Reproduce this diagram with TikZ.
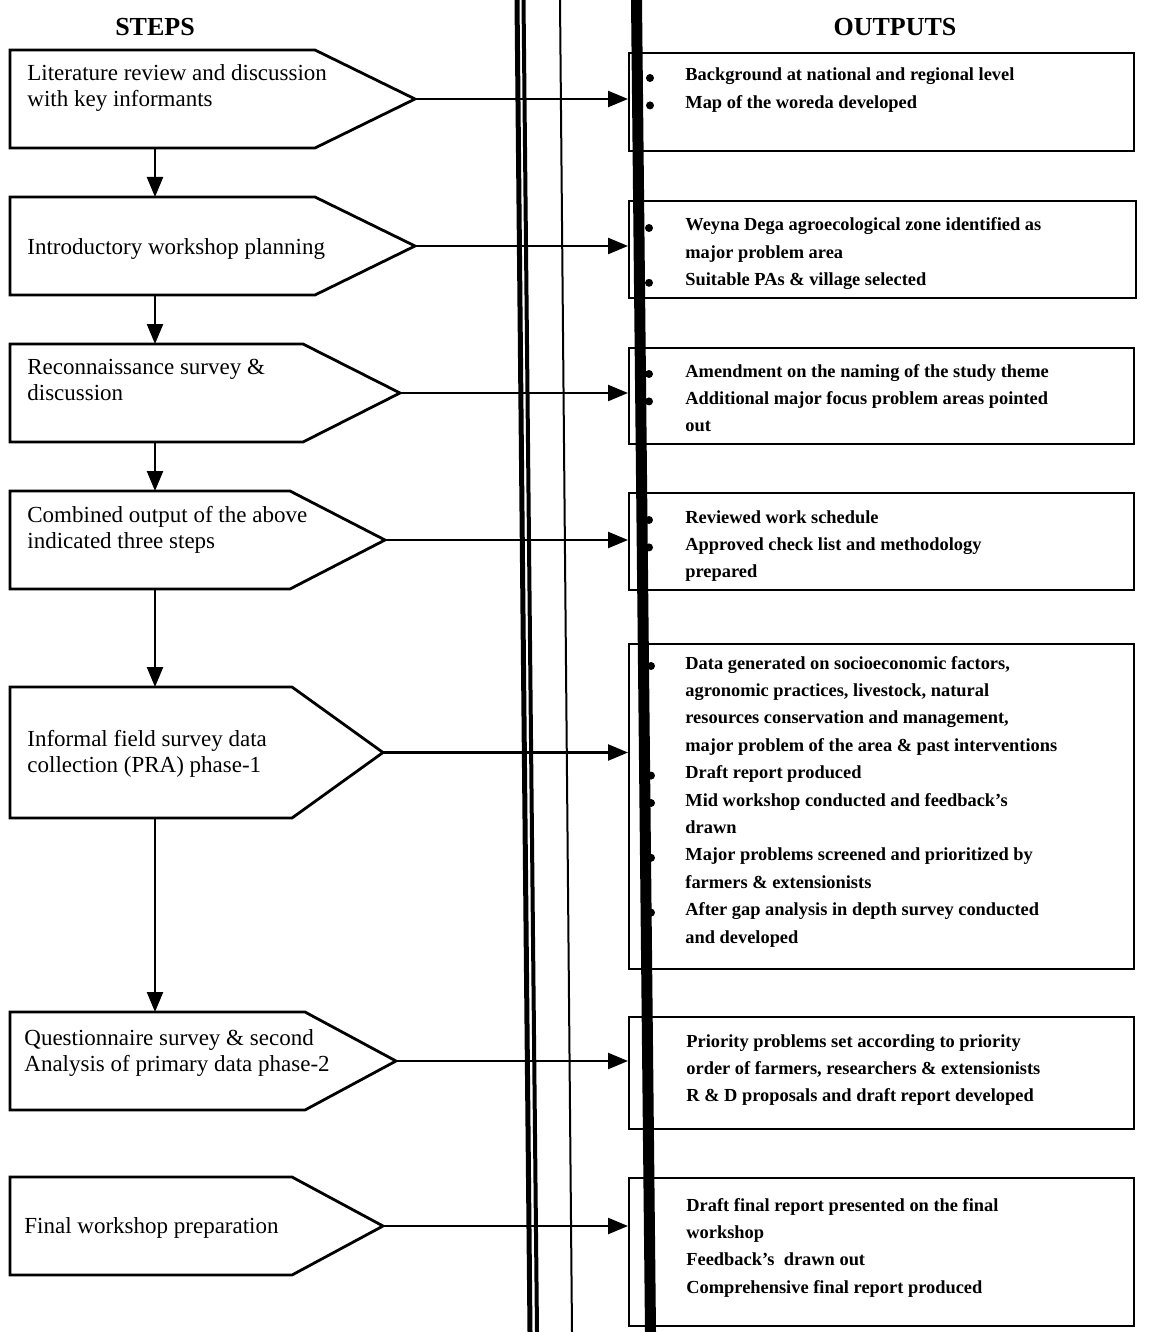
\documentclass[tikz,border=0pt]{standalone}
\usepackage{fontspec}
\setmainfont{Liberation Serif}
\usetikzlibrary{arrows.meta}

\tikzset{
  stepshape/.style={draw=black, line width=1.4pt, line join=miter},
  steptext/.style={anchor=base west, align=left, inner sep=0pt,
    font=\fontsize{11.5}{13}\selectfont},
  outbox/.style={draw=black, line width=1.2pt, anchor=north west, inner sep=0pt},
  outtext/.style={anchor=base west, align=left, inner sep=0pt,
    font=\bfseries\fontsize{9.2}{13.7}\selectfont},
  hdr/.style={font=\bfseries\fontsize{13}{15}\selectfont, inner sep=0pt},
  flow/.style={line width=1.2pt, -{Triangle[length=10pt,width=8pt]}},
  dot/.style={circle, fill=black, inner sep=0pt, minimum size=4pt},
  scanbar/.style={fill=black, draw=none},
}

% one process step: name, top, bottom, end of straight part, tip x
\newcommand\flowstep[5]{%
  \draw[stepshape] (10,#2) -- (#4,#2) -- (#5,{(#2+#3)/2}) -- (#4,#3) -- (10,#3) -- cycle;
  \coordinate (#1-tip) at (#5,{(#2+#3)/2});
  \coordinate (#1-top) at (155,#2);
  \coordinate (#1-bot) at (155,#3);
}
% line pitch (in picture units) of step and output texts;
% multi-line nodes sit on the baseline of their last line
\def\sskip{26}
\def\oskip{27.4}

\begin{document}
\begin{tikzpicture}[x=0.5pt,y=-0.5pt]
\useasboundingbox (0,0) rectangle (1149,1332);
\fill[white] (0,0) rectangle (1149,1332);

% column headings
\node[hdr] (hsteps) at (155,27) {STEPS};
\node[hdr] (houts) at (895,27) {OUTPUTS};

% process steps
\flowstep{s1}{50}{148}{315}{415}
\flowstep{s2}{197}{295}{315}{415}
\flowstep{s3}{344}{442}{303}{400}
\flowstep{s4}{491}{589}{290}{385}
\flowstep{s5}{687}{818}{292}{383}
\flowstep{s6}{1012}{1110}{305}{396}
\flowstep{s7}{1177}{1275}{292}{383}

\node[steptext] (t1) at (27,{81+\sskip}) {Literature review and discussion\\with key informants};
\node[steptext] (t2) at (27,255) {Introductory workshop planning};
\node[steptext] (t3) at (27,{374+\sskip}) {Reconnaissance survey \&\\discussion};
\node[steptext] (t4) at (27,{522+\sskip}) {Combined output of the above\\indicated three steps};
\node[steptext] (t5) at (27,{746+\sskip}) {Informal field survey data\\collection (PRA) phase-1};
\node[steptext] (t6) at (24,{1045+\sskip}) {Questionnaire survey \& second\\Analysis of primary data phase-2};
\node[steptext] (t7) at (24,1233) {Final workshop preparation};

% output boxes
\node[outbox, minimum width=252.5pt, minimum height=49pt]   (o1) at (628,52) {};
\node[outbox, minimum width=253.5pt, minimum height=48.5pt] (o2) at (628,200) {};
\node[outbox, minimum width=252.5pt, minimum height=48pt]   (o3) at (628,347) {};
\node[outbox, minimum width=252.5pt, minimum height=48.5pt] (o4) at (628,492) {};
\node[outbox, minimum width=252.5pt, minimum height=162.5pt](o5) at (628,643) {};
\node[outbox, minimum width=252.5pt, minimum height=56pt]   (o6) at (628,1016) {};
\node[outbox, minimum width=252.5pt, minimum height=74pt]   (o7) at (628,1177) {};

\node[outtext] (u1) at (685,{81+1*\oskip}) {Background at national and regional level\\Map of the woreda developed};
\node[outtext] (u2) at (685,{231+2*\oskip}) {Weyna Dega agroecological zone identified as\\major problem area\\Suitable PAs \& village selected};
\node[outtext] (u3) at (685,{377+2*\oskip}) {Amendment on the naming of the study theme\\Additional major focus problem areas pointed\\out};
\node[outtext] (u4) at (685,{523+2*\oskip}) {Reviewed work schedule\\Approved check list and methodology\\prepared};
\node[outtext] (u5) at (685,{669+10*\oskip}) {Data generated on socioeconomic factors,\\agronomic practices, livestock, natural\\resources conservation and management,\\major problem of the area \& past interventions\\Draft report produced\\Mid workshop conducted and feedback’s\\drawn\\Major problems screened and prioritized by\\farmers \& extensionists\\After gap analysis in depth survey conducted\\and developed};
\node[outtext] (u6) at (686,{1047+2*\oskip}) {Priority problems set according to priority\\order of farmers, researchers \& extensionists\\R \& D proposals and draft report developed};
\node[outtext] (u7) at (686,{1211+3*\oskip}) {Draft final report presented on the final\\workshop\\Feedback’s~ drawn out\\Comprehensive final report produced};

% flow down the steps
\draw[flow] (s1-bot) -- (s2-top);
\draw[flow] (s2-bot) -- (s3-top);
\draw[flow] (s3-bot) -- (s4-top);
\draw[flow] (s4-bot) -- (s5-top);
\draw[flow] (s5-bot) -- (s6-top);

% each step to its outputs
\draw[flow] (s1-tip) -- (s1-tip -| o1.west);
\draw[flow] (s2-tip) -- (s2-tip -| o2.west);
\draw[flow] (s3-tip) -- (s3-tip -| o3.west);
\draw[flow] (s4-tip) -- (s4-tip -| o4.west);
\draw[flow] (s5-tip) -- (s5-tip -| o5.west);
\draw[flow] (s6-tip) -- (s6-tip -| o6.west);
\draw[flow] (s7-tip) -- (s7-tip -| o7.west);

% dark binding bands of the page
\draw[line width=2.5pt] (517,0) -- (530,1332);
\draw[line width=2pt] (523.5,0) -- (537,1332);
\draw[line width=1pt] (560,0) -- (572,1332);
\fill[scanbar] (631,0) -- (642,0) -- (656,1332) -- (645,1332) -- cycle;

% bullets
\foreach \k in {0,1} \node[dot] at (650,{81-3+\k*\oskip}) {};
\foreach \k in {0,2} \node[dot] at (649,{231-3+\k*\oskip}) {};
\foreach \k in {0,1} \node[dot] at (649,{377-3+\k*\oskip}) {};
\foreach \k in {0,1} \node[dot] at (649,{523-3+\k*\oskip}) {};
\foreach \k in {0,4,5,7,9} \node[dot] at (651,{669-3+\k*\oskip}) {};
\end{tikzpicture}
\end{document}
